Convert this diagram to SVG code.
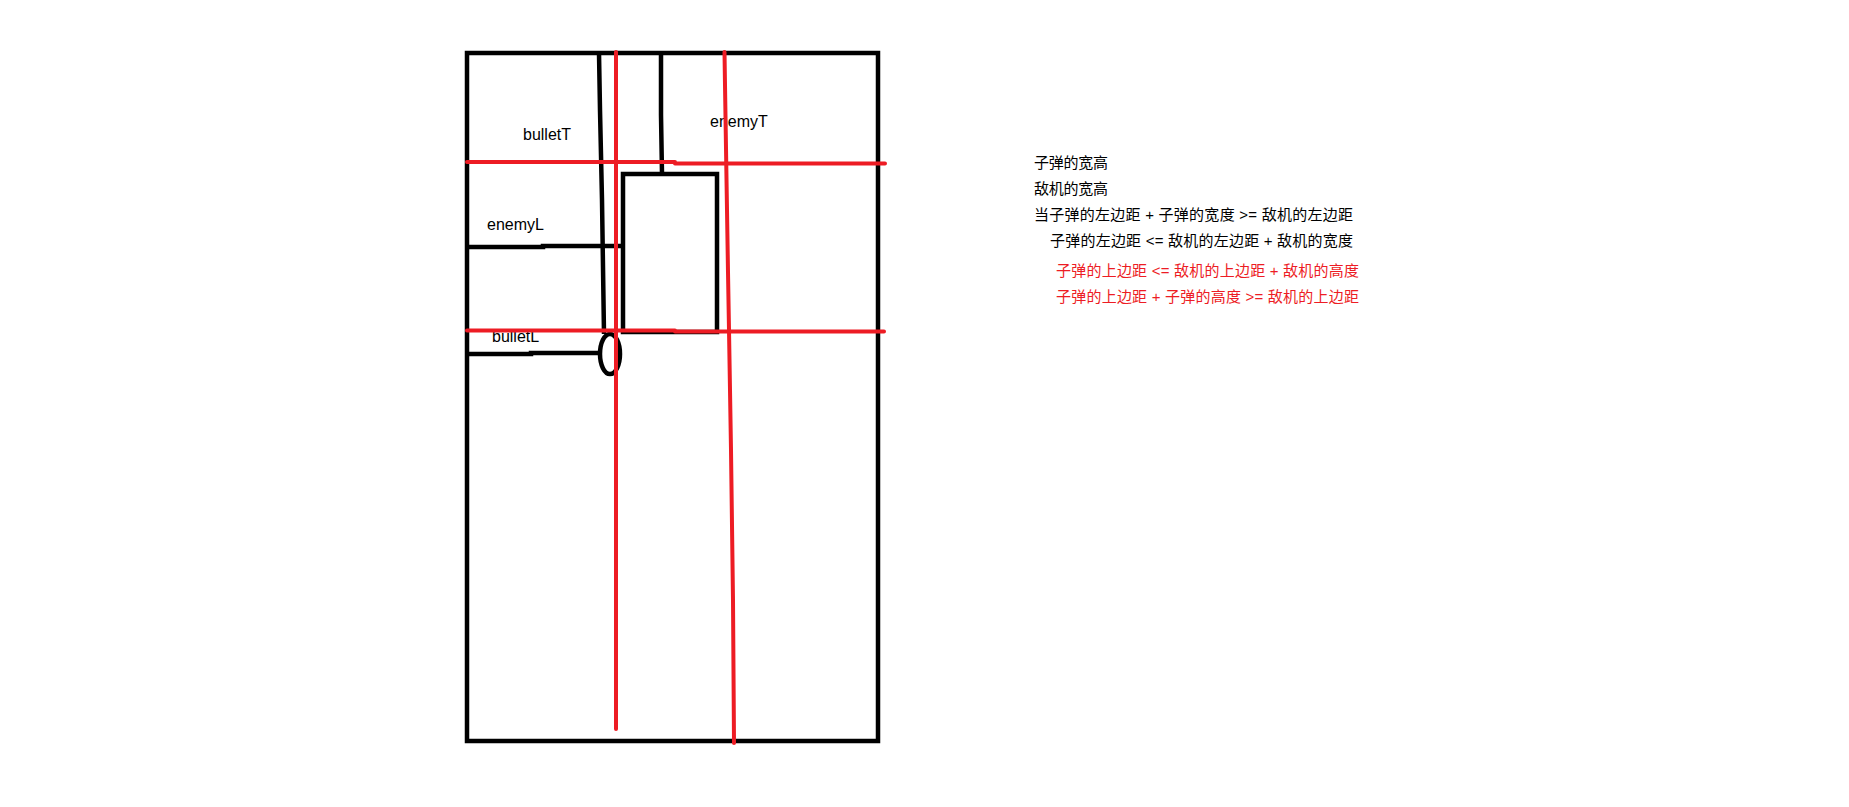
<svg xmlns="http://www.w3.org/2000/svg" width="1849" height="807" viewBox="0 0 1849 807">
<style>
.blk{fill:none;stroke:#000;stroke-width:4.5;stroke-linejoin:miter}
.red{fill:none;stroke:#ed1c24;stroke-width:4;stroke-linecap:round;stroke-linejoin:round}
.lbl{font-family:"Liberation Sans","Noto Sans CJK SC",sans-serif;font-size:16px;fill:#000}
.note{font-family:"Liberation Sans","Noto Sans CJK SC",sans-serif;font-size:15px;fill:#000}
.note-red{fill:#ed1c24}
</style>
<rect width="1849" height="807" fill="#fff"/>
<g id="screen"><rect class="blk" x="467" y="53" width="411" height="688"/></g>
<g id="enemy"><rect class="blk" x="623" y="174" width="94" height="158"/></g>
<g id="bullet"><ellipse class="blk" cx="610" cy="354" rx="10" ry="20"/></g>
<g id="black-lines">
<polyline class="blk" points="599,53 600,110 602,200 604,334"/>
<polyline class="blk" points="661,53 661,115 662,174"/>
<polyline class="blk" points="467,247 543,247 543,246 622,246"/>
<polyline class="blk" points="467,354 531,354 531,353 599,353"/>
</g>
<g id="labels">
<text class="lbl" x="523" y="140">bulletT</text>
<text class="lbl" x="710" y="127">enemyT</text>
<text class="lbl" x="487" y="230">enemyL</text>
<text class="lbl" x="492" y="342">bulletL</text>
</g>
<g id="red-lines">
<polyline class="red" points="467,162 675,162 675,163.5 885,163.5"/>
<polyline class="red" points="467,330.5 675,330.5 675,331.5 884,331.5"/>
<polyline class="red" points="616,52 616,729"/>
<polyline class="red" points="724.5,52 725,85 726,148 727,210 728,272 729,330 731,450 733,600 734,743"/>
</g>
<g id="notes">
<text class="note" x="1034" y="168" textLength="74" lengthAdjust="spacing">子弹的宽高</text>
<text class="note" x="1034" y="194" textLength="74" lengthAdjust="spacing">敌机的宽高</text>
<text class="note" x="1034" y="220" textLength="319" lengthAdjust="spacing">当子弹的左边距 + 子弹的宽度 &gt;= 敌机的左边距</text>
<text class="note" x="1050" y="246" textLength="303" lengthAdjust="spacing">子弹的左边距 &lt;= 敌机的左边距 + 敌机的宽度</text>
<text class="note note-red" x="1056" y="276" textLength="303" lengthAdjust="spacing">子弹的上边距 &lt;= 敌机的上边距 + 敌机的高度</text>
<text class="note note-red" x="1056" y="302" textLength="303" lengthAdjust="spacing">子弹的上边距 + 子弹的高度 &gt;= 敌机的上边距</text>
</g>
</svg>
